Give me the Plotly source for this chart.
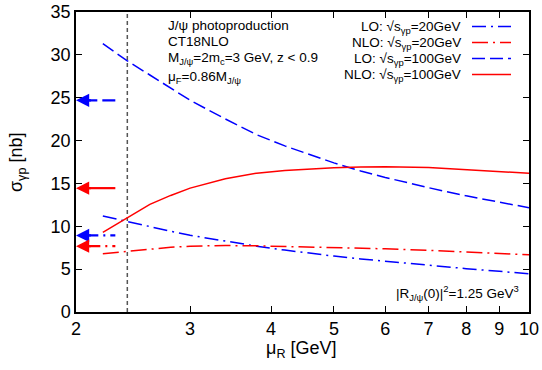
import numpy as np
import plotly.graph_objects as go

# ---------------- data ----------------
mu_R = [2.2, 2.4, 2.6, 2.8, 3.0, 3.4, 3.8, 4.2, 4.6, 5.0, 5.5, 6.0, 7.0, 8.0, 9.0, 10.0]
lo_20 = [11.2, 10.54, 9.95, 9.42, 8.95, 8.24, 7.68, 7.22, 6.84, 6.52, 6.19, 5.91, 5.44, 5.06, 4.74, 4.47]
nlo_20 = [6.8, 7.1, 7.35, 7.55, 7.68, 7.75, 7.72, 7.66, 7.6, 7.52, 7.44, 7.37, 7.2, 7.03, 6.86, 6.68]
lo_100 = [31.3, 29.3, 27.65, 26.12, 24.7, 22.52, 20.68, 19.38, 18.31, 17.4, 16.45, 15.7, 14.5, 13.55, 12.82, 12.16]
nlo_100 = [9.3, 11.0, 12.55, 13.6, 14.45, 15.55, 16.2, 16.5, 16.7, 16.83, 16.92, 16.95, 16.85, 16.62, 16.4, 16.18]

# central values (mu_R = 3 GeV), shown as arrows on the left axis
central_vals = {"lo_20": 8.93, "nlo_20": 7.68, "lo_100": 24.7, "nlo_100": 14.45}
arrow_tail_mu = 2.3
arrow_head_mu = 2.0
mu_dotted = 2.4

x_ticks = [2, 3, 4, 5, 6, 7, 8, 9, 10]
y_ticks = [0, 5, 10, 15, 20, 25, 30, 35]

# ---------------- styles ----------------
BLUE = "#0000ff"
RED = "#ff0000"
FONT = "Liberation Sans, Arial, Helvetica, sans-serif"
styles = {
    "lo_20": dict(color=BLUE, dash="14px,5px,2px,5px"),
    "nlo_20": dict(color=RED, dash="16px,5px,2px,5px"),
    "lo_100": dict(color=BLUE, dash="13px,5px"),
    "nlo_100": dict(color=RED, dash="solid"),
}
series = {"lo_20": lo_20, "nlo_20": nlo_20, "lo_100": lo_100, "nlo_100": nlo_100}
labels = {
    "lo_20": "LO: √s<sub>γp</sub>=20GeV",
    "nlo_20": "NLO: √s<sub>γp</sub>=20GeV",
    "lo_100": "LO: √s<sub>γp</sub>=100GeV",
    "nlo_100": "NLO: √s<sub>γp</sub>=100GeV",
}

fig = go.Figure()

# dotted vertical line
fig.add_trace(go.Scatter(x=[mu_dotted, mu_dotted], y=[0, 35], mode="lines",
                         line=dict(color="#555555", width=1.5, dash="4px,3px"),
                         showlegend=False, hoverinfo="skip"))

for key, vals in series.items():
    st = styles[key]
    fig.add_trace(go.Scatter(x=mu_R, y=vals, mode="lines",
                             line=dict(color=st["color"], width=1.5, dash=st["dash"]),
                             showlegend=False))

annotations = []
# arrows on the left
for key, v in central_vals.items():
    st = styles[key]
    fig.add_trace(go.Scatter(x=[arrow_head_mu * 1.03, arrow_tail_mu], y=[v, v], mode="lines",
                             line=dict(color=st["color"], width=2.2, dash=st["dash"]),
                             showlegend=False, hoverinfo="skip"))
    annotations.append(dict(x=np.log10(arrow_head_mu), y=v, ax=np.log10(arrow_head_mu * 1.06), ay=v,
                            xref="x", yref="y", axref="x", ayref="y", text="",
                            showarrow=True, arrowhead=2, arrowsize=1.2, arrowwidth=2.2,
                            arrowcolor=st["color"]))

# manual legend (text right aligned, sample on the right)
L, R, T, B = 76, 529, 12, 312
W, H = R - L, B - T
def px(xp):
    return (xp - L) / W
def py(yp):
    return (B - yp) / H

rows_y = [26.5, 42.5, 58.5, 74.5]
for key, yl in zip(["lo_20", "nlo_20", "lo_100", "nlo_100"], rows_y):
    st = styles[key]
    annotations.append(dict(x=px(463), y=py(yl + 1), xref="paper", yref="paper",
                            text=labels[key], showarrow=False, xanchor="right", yanchor="middle",
                            font=dict(family=FONT, size=13.5, color="black")))
    fig.add_shape(type="line", xref="paper", yref="paper", x0=px(472), x1=px(511),
                  y0=py(yl), y1=py(yl),
                  line=dict(color=st["color"], width=1.5, dash=st["dash"]))

# info text top-left
info = [
    ("J/ψ photoproduction", 25),
    ("CT18NLO", 41),
    ("M<sub>J/ψ</sub>=2m<sub>c</sub>=3 GeV, z &lt; 0.9", 59),
    ("μ<sub>F</sub>=0.86M<sub>J/ψ</sub>", 77),
]
for txt, yc in info:
    annotations.append(dict(x=px(166), y=py(yc), xref="paper", yref="paper", text=txt,
                            showarrow=False, xanchor="left", yanchor="middle",
                            font=dict(family=FONT, size=13.5, color="black")))

annotations.append(dict(x=px(521), y=py(293), xref="paper", yref="paper",
                        text="|R<sub>J/ψ</sub>(0)|<sup>2</sup>=1.25 GeV<sup>3</sup>",
                        showarrow=False, xanchor="right", yanchor="middle",
                        font=dict(family=FONT, size=13.5, color="black")))

# axis titles
annotations.append(dict(x=px(17), y=py(163), xref="paper", yref="paper",
                        text="σ<sub>γp</sub> [nb]", textangle=-90, showarrow=False,
                        xanchor="center", yanchor="middle",
                        font=dict(family=FONT, size=18, color="black")))
annotations.append(dict(x=px(301), y=py(349), xref="paper", yref="paper",
                        text="μ<sub>R</sub> [GeV]", showarrow=False,
                        xanchor="center", yanchor="middle",
                        font=dict(family=FONT, size=18, color="black")))

fig.update_layout(
    width=542, height=370,
    margin=dict(l=L, r=542 - R, t=T, b=370 - B, pad=0, autoexpand=False),
    paper_bgcolor="white", plot_bgcolor="white",
    font=dict(family=FONT, size=18, color="black"),
    annotations=annotations,
    showlegend=False,
)
fig.update_xaxes(type="log", range=[np.log10(2), np.log10(10)],
                 tickvals=x_ticks, ticktext=[str(t) for t in x_ticks],
                 ticks="inside", ticklen=6, tickwidth=1.2, tickcolor="black",
                 showline=True, linecolor="black", linewidth=1.5, mirror="allticks",
                 showgrid=False, zeroline=False, tickfont=dict(size=18), automargin=False)
fig.update_yaxes(range=[0, 35], tickvals=y_ticks,
                 ticks="inside", ticklen=6, tickwidth=1.2, tickcolor="black",
                 showline=True, linecolor="black", linewidth=1.5, mirror="allticks",
                 showgrid=False, zeroline=False, tickfont=dict(size=18), automargin=False)

fig.write_html("out.html")
